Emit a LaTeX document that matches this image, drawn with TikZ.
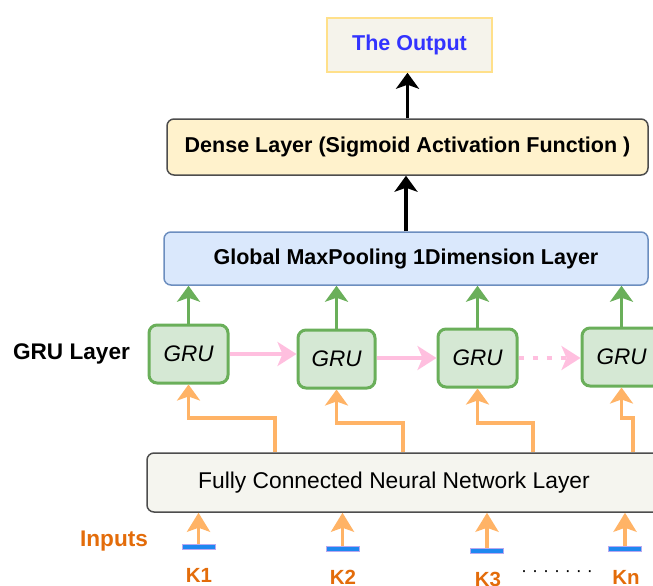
\documentclass[tikz,border=0pt]{standalone}
\usepackage{fontspec}
\setmainfont{Liberation Sans}
\usetikzlibrary{arrows.meta}

\definecolor{outfill}{HTML}{F5F3EB}
\definecolor{outline}{HTML}{FFE08A}
\definecolor{outtext}{HTML}{3333FF}
\definecolor{densefill}{HTML}{FFF2CC}
\definecolor{boxline}{HTML}{4D4D4D}
\definecolor{poolfill}{HTML}{DAE8FC}
\definecolor{poolline}{HTML}{6C8EBF}
\definecolor{grufill}{HTML}{D5E8D4}
\definecolor{gruline}{HTML}{6AAF5A}
\definecolor{linkpink}{HTML}{FFBFDF}
\definecolor{feedorange}{HTML}{FFB366}
\definecolor{labelorange}{HTML}{E36C0A}
\definecolor{fcfill}{HTML}{F5F5EF}
\definecolor{barblue}{HTML}{1E88F0}
\definecolor{barrim}{HTML}{B8A8F0}

\tikzset{
  txt/.style={font=\fontsize{22.8}{25}\selectfont},
  boldtxt/.style={font=\fontsize{21.5}{24}\selectfont\bfseries},
  bigbold/.style={font=\fontsize{22.6}{25}\selectfont\bfseries},
  layerbox/.style={draw=boxline, line width=1.5pt, rounded corners=7pt, inner sep=0pt},
  grubox/.style={draw=gruline, fill=grufill, line width=3pt, rounded corners=8pt,
    minimum width=79pt, minimum height=58pt, inner sep=0pt,
    font=\fontsize{22.5}{24}\selectfont\itshape},
  uparrow/.style={line width=3.5pt, -{Stealth[length=16pt,width=23pt,inset=4pt]}},
  blackarrow/.style={uparrow, draw=black},
  greenarrow/.style={uparrow, draw=gruline},
  orangearrow/.style={uparrow, draw=feedorange},
  pinkarrow/.style={line width=4pt, draw=linkpink, -{Stealth[length=19pt,width=24pt,inset=5pt]}},
  inputbar/.style={fill=barblue, draw=barrim, line width=0.8pt, minimum width=33pt,
    minimum height=5pt, inner sep=0pt},
  klabel/.style={font=\fontsize{20.5}{22}\selectfont\bfseries, text=labelorange, inner sep=1pt},
}

\begin{document}
\begin{tikzpicture}[x=1pt, y=-1pt]
\useasboundingbox (0,0) rectangle (653,586);
\clip (0,0) rectangle (653,586);

% output and dense layers
\node[draw=outline, fill=outfill, line width=1.5pt, minimum width=165pt, minimum height=54pt,
  inner sep=0pt, boldtxt, text=outtext] (out) at (409.5,45) {The Output};
\node[layerbox, fill=densefill, minimum width=481pt, minimum height=56pt, boldtxt]
  (dense) at (407.5,147) {Dense Layer (Sigmoid Activation Function )};
\node[layerbox, draw=poolline, fill=poolfill, minimum width=484pt, minimum height=53pt, boldtxt]
  (pool) at (406,258.5) {Global MaxPooling 1Dimension Layer};

\draw[blackarrow] (dense.north) -- (dense.north |- out.south);
\draw[blackarrow] (pool.north) -- (pool.north |- dense.south);

% GRU cells
\node[bigbold] (grulabel) at (71.5,354) {GRU Layer};
\node[grubox] (g1) at (188.5,354) {GRU};
\node[grubox, minimum width=77pt] (g2) at (336.5,359) {GRU};
\node[grubox] (g3) at (477.5,358) {GRU};
\node[grubox] (g4) at (621.5,357) {GRU};

\foreach \g in {g1,g2,g3,g4}
  \draw[greenarrow] (\g.north) -- (\g.north |- pool.south);

\draw[pinkarrow] (g1.east) -- (g1.east -| g2.west);
\draw[pinkarrow] (g2.east |- g3.west) -- (g3.west);
\draw[pinkarrow, dash pattern=on 5pt off 9pt] (g3.east) -- (g3.east -| g4.west);

% fully connected layer
\node[layerbox, fill=fcfill, minimum width=560pt, minimum height=59pt] (fc) at (427,482.5) {};
\node[txt] (fctext) at (394,483) {Fully Connected Neural Network Layer};

\coordinate (b1) at (275,418);
\coordinate (b2) at (403,423);
\coordinate (b3) at (533,423);
\coordinate (b4) at (633,418);
\draw[orangearrow] (fc.north -| b1) -- (b1) -| (g1.south);
\draw[orangearrow] (fc.north -| b2) -- (b2) -| (g2.south);
\draw[orangearrow] (fc.north -| b3) -- (b3) -| (g3.south);
\draw[orangearrow] (fc.north -| b4) -- (b4) -| (g4.south);

% inputs
\node[bigbold, text=labelorange] (inputs) at (114,541) {Inputs};
\node[inputbar] (x1) at (198.5,547) {};
\node[inputbar] (x2) at (342.5,549) {};
\node[inputbar] (x3) at (487,551) {};
\node[inputbar] (x4) at (625,549) {};
\foreach \x in {x1,x2,x3,x4}
  \draw[orangearrow, -{Stealth[length=19pt,width=23pt,inset=4pt]}] (\x.north) -- (\x.north |- fc.south);

\node[klabel] (k1) at (199,575) {K1};
\node[klabel] (k2) at (343,577) {K2};
\node[klabel] (k3) at (488,579) {K3};
\node[klabel] (kn) at (626,577) {Kn};
\node[font=\fontsize{18}{20}\selectfont] (kdots) at (557,574) {· · · · · · ·};
\end{tikzpicture}
\end{document}
